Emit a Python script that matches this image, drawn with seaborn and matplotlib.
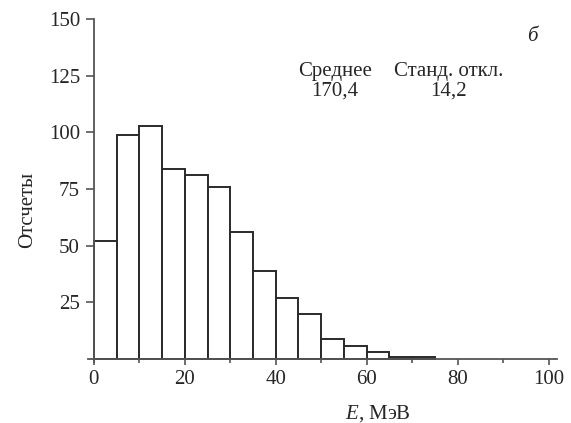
import numpy as np
import pandas as pd
import seaborn as sns
import matplotlib.pyplot as plt
from matplotlib.ticker import MultipleLocator

# bin edges (MeV) and counts
bin_left = [0, 5, 10, 15, 20, 25, 30, 35, 40, 45, 50, 55, 60, 65, 70]
counts = [52, 99, 103, 84, 81, 76, 56, 39, 27, 20, 9, 6, 3, 1, 1]
bin_width = 5
stat_names = ["Среднее", "Станд. откл."]
stat_values = ["170,4", "14,2"]

df = pd.DataFrame({"E": np.array(bin_left) + bin_width / 2, "n": counts})
edges = list(bin_left) + [bin_left[-1] + bin_width]

sns.set_style("ticks")
plt.rcParams["font.family"] = ["Liberation Serif", "DejaVu Serif"]
plt.rcParams["font.size"] = 15
plt.rcParams["mathtext.fontset"] = "custom"
plt.rcParams["mathtext.it"] = "Liberation Serif:italic"
plt.rcParams["mathtext.rm"] = "Liberation Serif"

fig = plt.figure(figsize=(5.71, 4.23), dpi=100)
ax = fig.add_axes([0.154, 0.144, 0.821, 0.811])
sns.histplot(data=df, x="E", weights="n", bins=edges, ax=ax,
             color="white", edgecolor="#2a2a2a", linewidth=1.4, alpha=1)

ax.set_xlim(-1.3, 101.8)
ax.set_ylim(-1.3, 150)
ax.spines["left"].set_position(("data", 0))
ax.spines["bottom"].set_position(("data", 0))
for s in ["top", "right"]:
    ax.spines[s].set_visible(False)
for s in ["left", "bottom"]:
    ax.spines[s].set_color("#555555")
    ax.spines[s].set_linewidth(1.3)

ax.xaxis.set_major_locator(MultipleLocator(20))
ax.xaxis.set_minor_locator(MultipleLocator(10))
ax.set_yticks([25, 50, 75, 100, 125, 150])
ax.tick_params(axis="y", direction="out", length=6, width=1.2, color="#555555", pad=4, labelsize=15)
ax.tick_params(axis="x", which="major", direction="out", length=4, width=1.2, color="#555555", pad=4, labelsize=15)
ax.tick_params(axis="x", which="minor", direction="out", length=3, width=1.2, color="#555555")

ax.set_ylabel("Отсчеты", fontsize=15)
ax.yaxis.set_label_coords(-0.109, 0.443)
ax.set_xlabel("$E$, МэВ", fontsize=15)
ax.xaxis.set_label_coords(0.618, -0.12)

ax.text(53, 122.5, stat_names[0] + "\n" + stat_values[0], ha="center", va="center",
        fontsize=15, linespacing=1.05)
ax.text(78, 122.5, stat_names[1] + "\n" + stat_values[1], ha="center", va="center",
        fontsize=15, linespacing=1.05)
ax.text(96.5, 142.5, "б", ha="center", va="center", fontsize=15, style="italic")

fig.savefig("out.png", dpi=100)
